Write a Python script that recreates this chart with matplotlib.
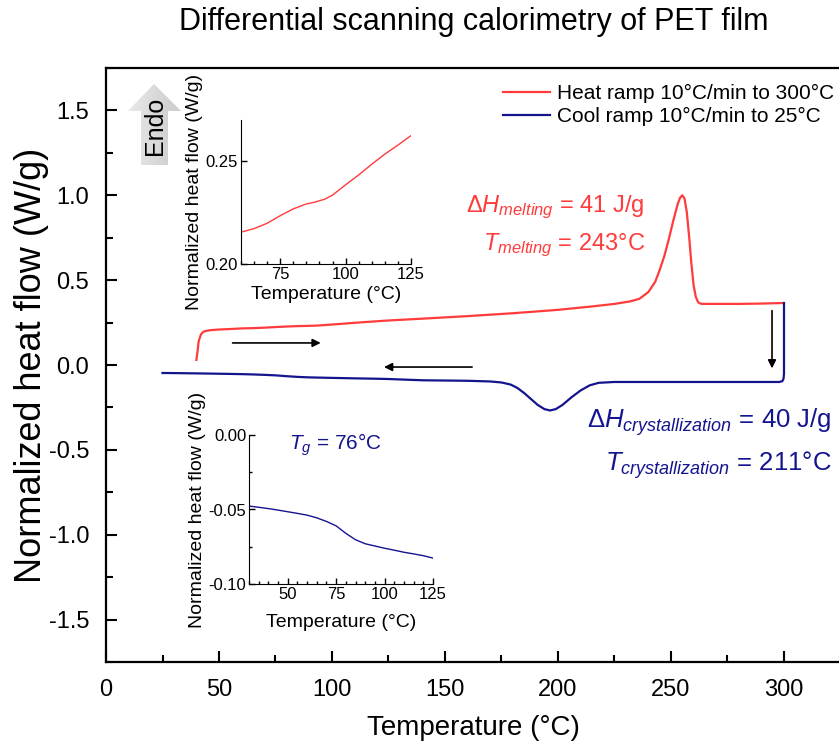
import numpy as np
import matplotlib
matplotlib.use("Agg")
import matplotlib.pyplot as plt
from matplotlib.ticker import MultipleLocator, FormatStrFormatter
from matplotlib.patches import Polygon
from matplotlib.colors import LinearSegmentedColormap

plt.rcParams['font.family'] = ['Liberation Sans', 'DejaVu Sans']
plt.rcParams['axes.unicode_minus'] = False
plt.rcParams['mathtext.fontset'] = 'custom'
plt.rcParams['mathtext.rm'] = 'Liberation Sans'
plt.rcParams['mathtext.it'] = 'Liberation Sans:italic'

# ---------------- data ----------------
heat_T = [40, 40.5, 41, 42, 43, 44, 46, 50, 55, 60, 65, 70, 75, 80, 85, 88, 92, 95, 100,
          105, 110, 115, 120, 125, 140, 160, 180, 200, 215, 225, 232, 236, 240, 243, 245,
          247, 249, 251, 253, 254, 255, 256, 257, 258, 259, 260, 261, 262, 263, 264, 270,
          280, 290, 299, 300]
heat_Q = [0.03, 0.08, 0.14, 0.18, 0.195, 0.20, 0.205, 0.209, 0.212, 0.2155, 0.2172, 0.2198,
          0.2235, 0.2268, 0.2292, 0.2300, 0.2315, 0.2335, 0.2385, 0.2433, 0.2485, 0.2534,
          0.2578, 0.2624, 0.273, 0.288, 0.305, 0.325, 0.345, 0.36, 0.375, 0.39, 0.43, 0.49,
          0.56, 0.64, 0.74, 0.85, 0.95, 0.985, 1.0, 0.98, 0.90, 0.76, 0.60, 0.47, 0.40,
          0.37, 0.362, 0.36, 0.36, 0.36, 0.362, 0.365, 0.365]

cool_T = [300, 300, 299.8, 299.3, 298, 290, 260, 240, 225, 218, 214, 210, 206, 202, 199,
          196.5, 194, 191, 188, 185, 182, 179, 175, 170, 160, 140, 125, 120, 115, 110, 105,
          100, 95, 90, 85, 80, 75, 70, 65, 60, 55, 50, 45, 40, 35, 30, 25]
cool_Q = [0.365, -0.05, -0.08, -0.095, -0.10, -0.10, -0.10, -0.10, -0.10, -0.105, -0.12,
          -0.15, -0.19, -0.235, -0.26, -0.268, -0.26, -0.235, -0.20, -0.165, -0.135, -0.115,
          -0.103, -0.097, -0.093, -0.09, -0.0826, -0.0810, -0.0798, -0.0787, -0.0773,
          -0.0760, -0.0745, -0.0730, -0.0703, -0.0660, -0.0610, -0.0580, -0.0556, -0.0538,
          -0.0526, -0.0515, -0.0504, -0.0494, -0.0485, -0.0477, -0.0470]

legend_labels = ['Heat ramp 10°C/min to 300°C', 'Cool ramp 10°C/min to 25°C']
main_xticks = [0, 50, 100, 150, 200, 250, 300]
main_yticks = [-1.5, -1.0, -0.5, 0.0, 0.5, 1.0, 1.5]

RED = '#ff3b3b'
BLUE = '#14148f'

W, H = 839, 747
fig = plt.figure(figsize=(W / 100, H / 100), dpi=100)

def fbox(l, t, r, b):
    return [l / W, 1 - b / H, (r - l) / W, (b - t) / H]

# ---------------- main axes ----------------
ax = fig.add_axes(fbox(106, 68, 106 + 325 * 2.26, 662))
ax.plot(heat_T, heat_Q, color=RED, lw=1.6, label=legend_labels[0], zorder=3)
ax.plot(cool_T, cool_Q, color=BLUE, lw=1.6, label=legend_labels[1], zorder=3)
ax.set_xlim(0, 325)
ax.set_ylim(-1.75, 1.75)
ax.set_xticks(main_xticks)
ax.set_yticks(main_yticks)
ax.xaxis.set_minor_locator(MultipleLocator(25))
ax.yaxis.set_minor_locator(MultipleLocator(0.25))
ax.yaxis.set_major_formatter(FormatStrFormatter('%.1f'))
ax.tick_params(which='both', direction='in', labelsize=17, width=1.5, top=False, right=False)
ax.tick_params(which='major', length=8, pad=12)
ax.tick_params(which='minor', length=5)
for s in ax.spines.values():
    s.set_linewidth(1.6)
ax.set_xlabel('Temperature (°C)', fontsize=20, labelpad=10)
ax.set_ylabel('Normalized heat flow (W/g)', fontsize=26, labelpad=0)
fig.text(474 / W, 1 - 22 / H, 'Differential scanning calorimetry of PET film', ha='center',
         va='center', fontsize=22)

leg = ax.legend(loc='upper left', bbox_to_anchor=(503 / W, 1 - 84 / H),
                bbox_transform=fig.transFigure, frameon=False,
                prop={'size': 15}, handlelength=2.25, handletextpad=0.35,
                labelspacing=0.2, borderaxespad=0, borderpad=0)

# arrows
arr = dict(arrowstyle='-|>', color='black', lw=1.2, mutation_scale=12,
           shrinkA=0, shrinkB=0)
ax.annotate('', xy=(95, 0.13), xytext=(56, 0.13), arrowprops=arr)
ax.annotate('', xy=(123, -0.012), xytext=(162, -0.012), arrowprops=arr)
ax.annotate('', xy=(294.7, -0.02), xytext=(294.7, 0.32), arrowprops=arr)

# annotations
ax.text(238.5, 0.93, r'$\mathit{\Delta H}_{\mathit{melting}}$ = 41 J/g', color=RED,
        ha='right', va='center', fontsize=17)
ax.text(238.5, 0.705, r'$\mathit{T}_{\mathit{melting}}$ = 243°C', color=RED,
        ha='right', va='center', fontsize=17)
ax.text(321, -0.335, r'$\mathit{\Delta H}_{\mathit{crystallization}}$ = 40 J/g', color=BLUE,
        ha='right', va='center', fontsize=18.5)
ax.text(321, -0.59, r'$\mathit{T}_{\mathit{crystallization}}$ = 211°C', color=BLUE,
        ha='right', va='center', fontsize=18.5)

# Endo arrow
pts = np.array([(154, 84), (181, 111), (168, 111), (168, 165), (141, 165), (141, 111),
                (128, 111)], dtype=float)
pf = np.column_stack([pts[:, 0] / W, 1 - pts[:, 1] / H])
gax = fig.add_axes([0, 0, 1, 1], zorder=0.5)
gax.set_axis_off()
gax.set_xlim(0, 1)
gax.set_ylim(0, 1)
gcmap = LinearSegmentedColormap.from_list('g', ['#e9e9e9', '#cbcbcb'])
grad = np.linspace(0, 1, 256).reshape(1, -1)
im = gax.imshow(grad, extent=[128 / W, 181 / W, 1 - 165 / H, 1 - 84 / H], cmap=gcmap,
                aspect='auto', origin='lower')
clip = Polygon(pf, closed=True, transform=gax.transData)
im.set_clip_path(clip)
fig.text(155 / W, 1 - 126 / H, 'Endo', rotation=90, ha='center', va='center',
         fontsize=18, zorder=3)

# ---------------- inset 1 (heating) ----------------
ax1 = fig.add_axes(fbox(241, 120, 411, 264))
ax1.plot(heat_T, heat_Q, color=RED, lw=1.0)
ax1.set_xlim(60, 125)
ax1.set_ylim(0.20, 0.27)
ax1.set_xticks([75, 100, 125])
ax1.set_yticks([0.20, 0.25])
ax1.xaxis.set_minor_locator(MultipleLocator(5))
ax1.yaxis.set_major_formatter(FormatStrFormatter('%.2f'))
ax1.spines['top'].set_visible(False)
ax1.spines['right'].set_visible(False)
ax1.tick_params(which='both', direction='in', labelsize=12, width=1.0)
ax1.tick_params(which='major', length=4, pad=2)
ax1.tick_params(which='minor', length=2)
ax1.set_xlabel('Temperature (°C)', fontsize=14, labelpad=3)
ax1.set_ylabel('Normalized heat flow (W/g)', fontsize=14, labelpad=2)
ax1.patch.set_alpha(0)

# ---------------- inset 2 (cooling) ----------------
ax2 = fig.add_axes(fbox(249, 435, 433, 584))
ax2.plot(cool_T, cool_Q, color=BLUE, lw=1.0)
ax2.set_xlim(30, 125)
ax2.set_ylim(-0.10, 0.0)
ax2.set_xticks([50, 75, 100, 125])
ax2.set_yticks([-0.10, -0.05, 0.0])
ax2.xaxis.set_minor_locator(MultipleLocator(5))
ax2.yaxis.set_minor_locator(MultipleLocator(0.025))
ax2.yaxis.set_major_formatter(FormatStrFormatter('%.2f'))
ax2.spines['top'].set_visible(False)
ax2.spines['right'].set_visible(False)
ax2.tick_params(which='both', direction='in', labelsize=12, width=1.0)
ax2.tick_params(which='major', length=4, pad=2)
ax2.tick_params(which='minor', length=2)
ax2.set_xlabel('Temperature (°C)', fontsize=14, labelpad=9)
ax2.set_ylabel('Normalized heat flow (W/g)', fontsize=14, labelpad=2)
ax2.patch.set_alpha(0)
ax2.text(0.22, 0.935, r'$\mathit{T}_{\mathit{g}}$ = 76°C', transform=ax2.transAxes,
         color=BLUE, ha='left', va='center', fontsize=15)

fig.savefig('out.png', dpi=100)
